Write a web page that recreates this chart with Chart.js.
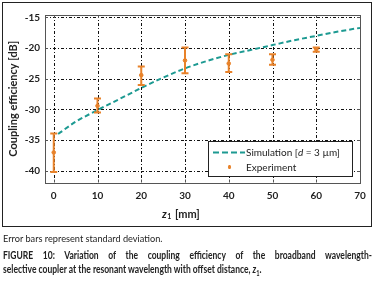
<!DOCTYPE html>
<html>
<head>
<meta charset="utf-8">
<script src="https://cdn.jsdelivr.net/npm/chart.js@4.4.1/dist/chart.umd.min.js"></script>
<style>
  html,body{margin:0;padding:0;background:#fff;}
  body{width:375px;height:282px;position:relative;overflow:hidden;font-family:Lato,"Open Sans",sans-serif;color:#222;}
  #wrap{position:absolute;left:0;top:0;width:375px;height:230px;}
  #box{position:absolute;left:2px;top:2px;width:368px;height:223px;border:1px solid #222;pointer-events:none;}
  #note{position:absolute;left:3px;top:232px;font-size:10px;white-space:nowrap;transform:scaleX(0.92);transform-origin:left top;}
  #cap{position:absolute;left:3px;top:248px;width:455px;font-size:10.5px;font-weight:bold;line-height:14px;transform:scaleX(0.811);transform-origin:left top;}
  #cap .l1{text-align:justify;text-align-last:justify;white-space:nowrap;}
</style>
</head>
<body>
<div id="wrap"><canvas id="c" width="375" height="230"></canvas></div>
<div id="box"></div>
<div id="note">Error bars represent standard deviation.</div>
<div id="cap"><div class="l1">FIGURE 10: Variation of the coupling efficiency of the broadband wavelength-</div><div>selective coupler at the resonant wavelength with offset distance, <i>z</i><sub style="font-size:7px">1</sub>.</div></div>
<script>
// ---- data ----
const xTicks = [0, 10, 20, 30, 40, 50, 60, 70];
const yTicks = [-40, -35, -30, -25, -20, -15];

const simX = [1, 5, 10, 15, 20, 25, 30, 35, 40, 45, 50, 55, 60, 65, 70];
const simY = [-34.0, -32.0, -30.1, -28.3, -26.5, -24.8, -23.3, -22.1, -21.1, -20.3, -19.5, -18.7, -18.0, -17.3, -16.7];

const expX = [0, 10, 20, 30, 40, 50, 60];
const expY = [-37.0, -29.4, -24.4, -22.0, -22.5, -21.9, -20.2];
const expHi = [-33.9, -28.2, -23.0, -19.9, -21.0, -21.0, -19.9];
const expLo = [-40.2, -30.5, -26.0, -24.1, -23.9, -22.7, -20.6];

const TEAL = '#1d9a92';
const ORANGE = '#e8822a';
const FONT = 'Lato, "Open Sans", sans-serif';

const gridLines = {
  id: 'gridLines',
  beforeDatasetsDraw(chart) {
    const {ctx, chartArea: a, scales: {x: xs, y: ys}} = chart;
    ctx.save();
    ctx.strokeStyle = '#111';
    ctx.lineWidth = 1;
    ctx.setLineDash([3, 2, 1, 2]);
    ctx.beginPath();
    xTicks.forEach(v => {
      const p = Math.round(xs.getPixelForValue(v)) + 0.5;
      ctx.moveTo(p, a.top); ctx.lineTo(p, a.bottom);
    });
    yTicks.forEach(v => {
      const p = Math.round(ys.getPixelForValue(v)) + 0.5;
      ctx.moveTo(a.left, p); ctx.lineTo(a.right, p);
    });
    ctx.stroke();
    ctx.restore();
  }
};

const errorBars = {
  id: 'errorBars',
  afterDatasetsDraw(chart) {
    const xs = chart.scales.x, ys = chart.scales.y, ctx = chart.ctx;
    ctx.save();
    ctx.strokeStyle = ORANGE;
    ctx.lineWidth = 2;
    expX.forEach((x, i) => {
      const px = xs.getPixelForValue(x);
      const ph = ys.getPixelForValue(expHi[i]);
      const pl = ys.getPixelForValue(expLo[i]);
      ctx.beginPath();
      ctx.moveTo(px, ph); ctx.lineTo(px, pl);
      ctx.moveTo(px - 3.5, ph); ctx.lineTo(px + 3.5, ph);
      ctx.moveTo(px - 3.5, pl); ctx.lineTo(px + 3.5, pl);
      ctx.stroke();
    });
    ctx.restore();
  }
};

const frame = {
  id: 'frame',
  afterDraw(chart) {
    const {ctx, chartArea: a, scales: {x: xs, y: ys}} = chart;
    ctx.save();
    ctx.strokeStyle = '#555';
    ctx.lineWidth = 1;
    ctx.strokeRect(Math.round(a.left) + 0.5, Math.round(a.top) + 0.5, Math.round(a.right - a.left), Math.round(a.bottom - a.top));
    ctx.beginPath();
    xTicks.forEach(v => {
      const p = Math.round(xs.getPixelForValue(v)) + 0.5;
      ctx.moveTo(p, a.bottom); ctx.lineTo(p, a.bottom - 3);
      ctx.moveTo(p, a.top); ctx.lineTo(p, a.top + 3);
    });
    yTicks.forEach(v => {
      const p = Math.round(ys.getPixelForValue(v)) + 0.5;
      ctx.moveTo(a.left, p); ctx.lineTo(a.left + 3, p);
      ctx.moveTo(a.right, p); ctx.lineTo(a.right - 3, p);
    });
    ctx.stroke();

    // x title: z1 [mm]
    ctx.fillStyle = '#222';
    ctx.textBaseline = 'middle';
    ctx.textAlign = 'left';
    let tx = 162, ty = 214;
    ctx.font = 'italic bold 11px ' + FONT;
    ctx.fillText('z', tx, ty);
    tx += ctx.measureText('z').width + 0.5;
    ctx.font = 'bold 7px ' + FONT;
    ctx.fillText('1', tx, ty + 3);
    tx += ctx.measureText('1').width + 1;
    ctx.font = 'bold 11px ' + FONT;
    ctx.fillText(' [mm]', tx, ty);

    // legend
    const L = 208.5, T = 141.5, W = 144, H = 35;
    ctx.fillStyle = '#fff';
    ctx.fillRect(L, T, W, H);
    ctx.strokeStyle = '#222';
    ctx.lineWidth = 1;
    ctx.strokeRect(L, T, W, H);
    ctx.strokeStyle = TEAL;
    ctx.lineWidth = 2;
    ctx.setLineDash([6, 3]);
    ctx.beginPath();
    ctx.moveTo(213, 152.5); ctx.lineTo(245, 152.5);
    ctx.stroke();
    ctx.setLineDash([]);
    ctx.strokeStyle = ORANGE;
    ctx.beginPath();
    ctx.moveTo(229.5, 165); ctx.lineTo(229.5, 169);
    ctx.stroke();
    ctx.fillStyle = ORANGE;
    ctx.beginPath(); ctx.arc(229.5, 167, 1.6, 0, Math.PI * 2); ctx.fill();
    ctx.fillStyle = '#222';
    let lx = 246;
    const ly1 = 152.5, ly2 = 168;
    ctx.font = '10px ' + FONT;
    ctx.fillText('Simulation [', lx, ly1);
    lx += ctx.measureText('Simulation [').width;
    ctx.font = 'italic 10px ' + FONT;
    ctx.fillText('d', lx, ly1);
    lx += ctx.measureText('d').width;
    ctx.font = '10px ' + FONT;
    ctx.fillText(' = 3 \u00b5m]', lx, ly1);
    ctx.fillText('Experiment', 246, ly2);
    ctx.restore();
  }
};

new Chart(document.getElementById('c'), {
  type: 'scatter',
  data: {
    datasets: [
      {
        label: 'Simulation',
        data: simX.map((x, i) => ({x, y: simY[i]})),
        showLine: true,
        borderColor: TEAL,
        borderWidth: 2,
        borderDash: [5, 3],
        pointRadius: 0,
        cubicInterpolationMode: 'monotone',
        fill: false,
        order: 2
      },
      {
        label: 'Experiment',
        data: expX.map((x, i) => ({x, y: expY[i]})),
        showLine: false,
        pointRadius: 1.8,
        pointBackgroundColor: ORANGE,
        pointBorderColor: ORANGE,
        order: 1
      }
    ]
  },
  plugins: [gridLines, errorBars, frame],
  options: {
    responsive: false,
    animation: false,
    devicePixelRatio: 1,
    layout: {padding: {left: 0, right: 15, top: 15, bottom: 0}},
    plugins: {legend: {display: false}, tooltip: {enabled: false}},
    scales: {
      x: {
        type: 'linear',
        min: -2, max: 70,
        afterBuildTicks: s => { s.ticks = xTicks.map(v => ({value: v})); },
        afterFit: s => { s.height = 47.5; },
        grid: {display: false, drawTicks: false},
        border: {display: false},
        ticks: {
          padding: 7, color: '#222',
          font: {family: FONT, size: 10, weight: 'bold'},
          callback: v => String(v)
        }
      },
      y: {
        type: 'linear',
        min: -41.9, max: -14.6,
        afterBuildTicks: s => { s.ticks = yTicks.map(v => ({value: v})); },
        afterFit: s => { s.width = 45; },
        grid: {display: false, drawTicks: false},
        border: {display: false},
        title: {
          display: true, text: 'Coupling efficiency [dB]', color: '#222',
          font: {family: FONT, size: 11, weight: 'bold'},
          padding: {top: 7, bottom: 0}
        },
        ticks: {
          padding: 5, color: '#222',
          font: {family: FONT, size: 10, weight: 'bold'},
          callback: v => String(v)
        }
      }
    }
  }
});
</script>
</body>
</html>
